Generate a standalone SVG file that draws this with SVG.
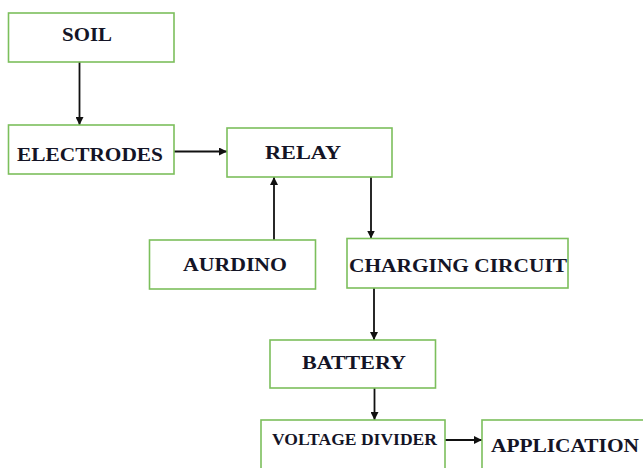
<svg xmlns="http://www.w3.org/2000/svg" width="643" height="468" viewBox="0 0 643 468">
<defs>
<style>
.box{fill:#fff;stroke:#7cbf5c;stroke-width:1.6}
.lbl{font-family:'Liberation Serif','DejaVu Serif','Times New Roman',serif;font-weight:bold;font-size:19px;fill:#141426}
.sm{font-size:16px}
.ln{stroke:#111;stroke-width:1.8;fill:none;marker-end:url(#ah)}
</style>
<marker id="ah" viewBox="0 0 10 10" refX="10" refY="5" markerWidth="8" markerHeight="8" markerUnits="userSpaceOnUse" orient="auto"><path d="M0,0L10,5L0,10z" fill="#111"/></marker>
</defs>
<rect width="643" height="468" fill="#fff"/>
<g id="connectors">
<line class="ln" x1="79.5" y1="62" x2="79.5" y2="125"/>
<line class="ln" x1="174" y1="151.5" x2="227" y2="151.5"/>
<line class="ln" x1="274" y1="240" x2="274" y2="177"/>
<line class="ln" x1="371" y1="177" x2="371" y2="238.5"/>
<line class="ln" x1="374" y1="288" x2="374" y2="340"/>
<line class="ln" x1="374.5" y1="388" x2="374.5" y2="420"/>
<line class="ln" x1="445" y1="440" x2="482" y2="440"/>
</g>
<g id="soil"><rect class="box" x="8.5" y="13" width="165.5" height="49"/><text class="lbl" x="62" y="41" textLength="50" lengthAdjust="spacingAndGlyphs">SOIL</text></g>
<g id="electrodes"><rect class="box" x="8.5" y="125" width="165.5" height="49"/><text class="lbl" x="17" y="160.5" textLength="146" lengthAdjust="spacingAndGlyphs">ELECTRODES</text></g>
<g id="relay"><rect class="box" x="227" y="128" width="165" height="49"/><text class="lbl" x="265" y="159" textLength="76" lengthAdjust="spacingAndGlyphs">RELAY</text></g>
<g id="aurdino"><rect class="box" x="149.5" y="240" width="166" height="49"/><text class="lbl" x="183" y="270.5" textLength="104" lengthAdjust="spacingAndGlyphs">AURDINO</text></g>
<g id="charging"><rect class="box" x="347" y="238.5" width="221" height="49.5"/><text class="lbl" x="349" y="271.5" textLength="218" lengthAdjust="spacingAndGlyphs">CHARGING CIRCUIT</text></g>
<g id="battery"><rect class="box" x="270" y="340" width="165.5" height="48"/><text class="lbl" x="302" y="369" textLength="104" lengthAdjust="spacingAndGlyphs">BATTERY</text></g>
<g id="voltage-divider"><rect class="box" x="261" y="420" width="184" height="60"/><text class="lbl sm" x="272" y="445" textLength="165" lengthAdjust="spacingAndGlyphs">VOLTAGE DIVIDER</text></g>
<g id="application"><rect class="box" x="482" y="420" width="170" height="60"/><text class="lbl" x="491" y="451.5" textLength="148" lengthAdjust="spacingAndGlyphs">APPLICATION</text></g>
</svg>
